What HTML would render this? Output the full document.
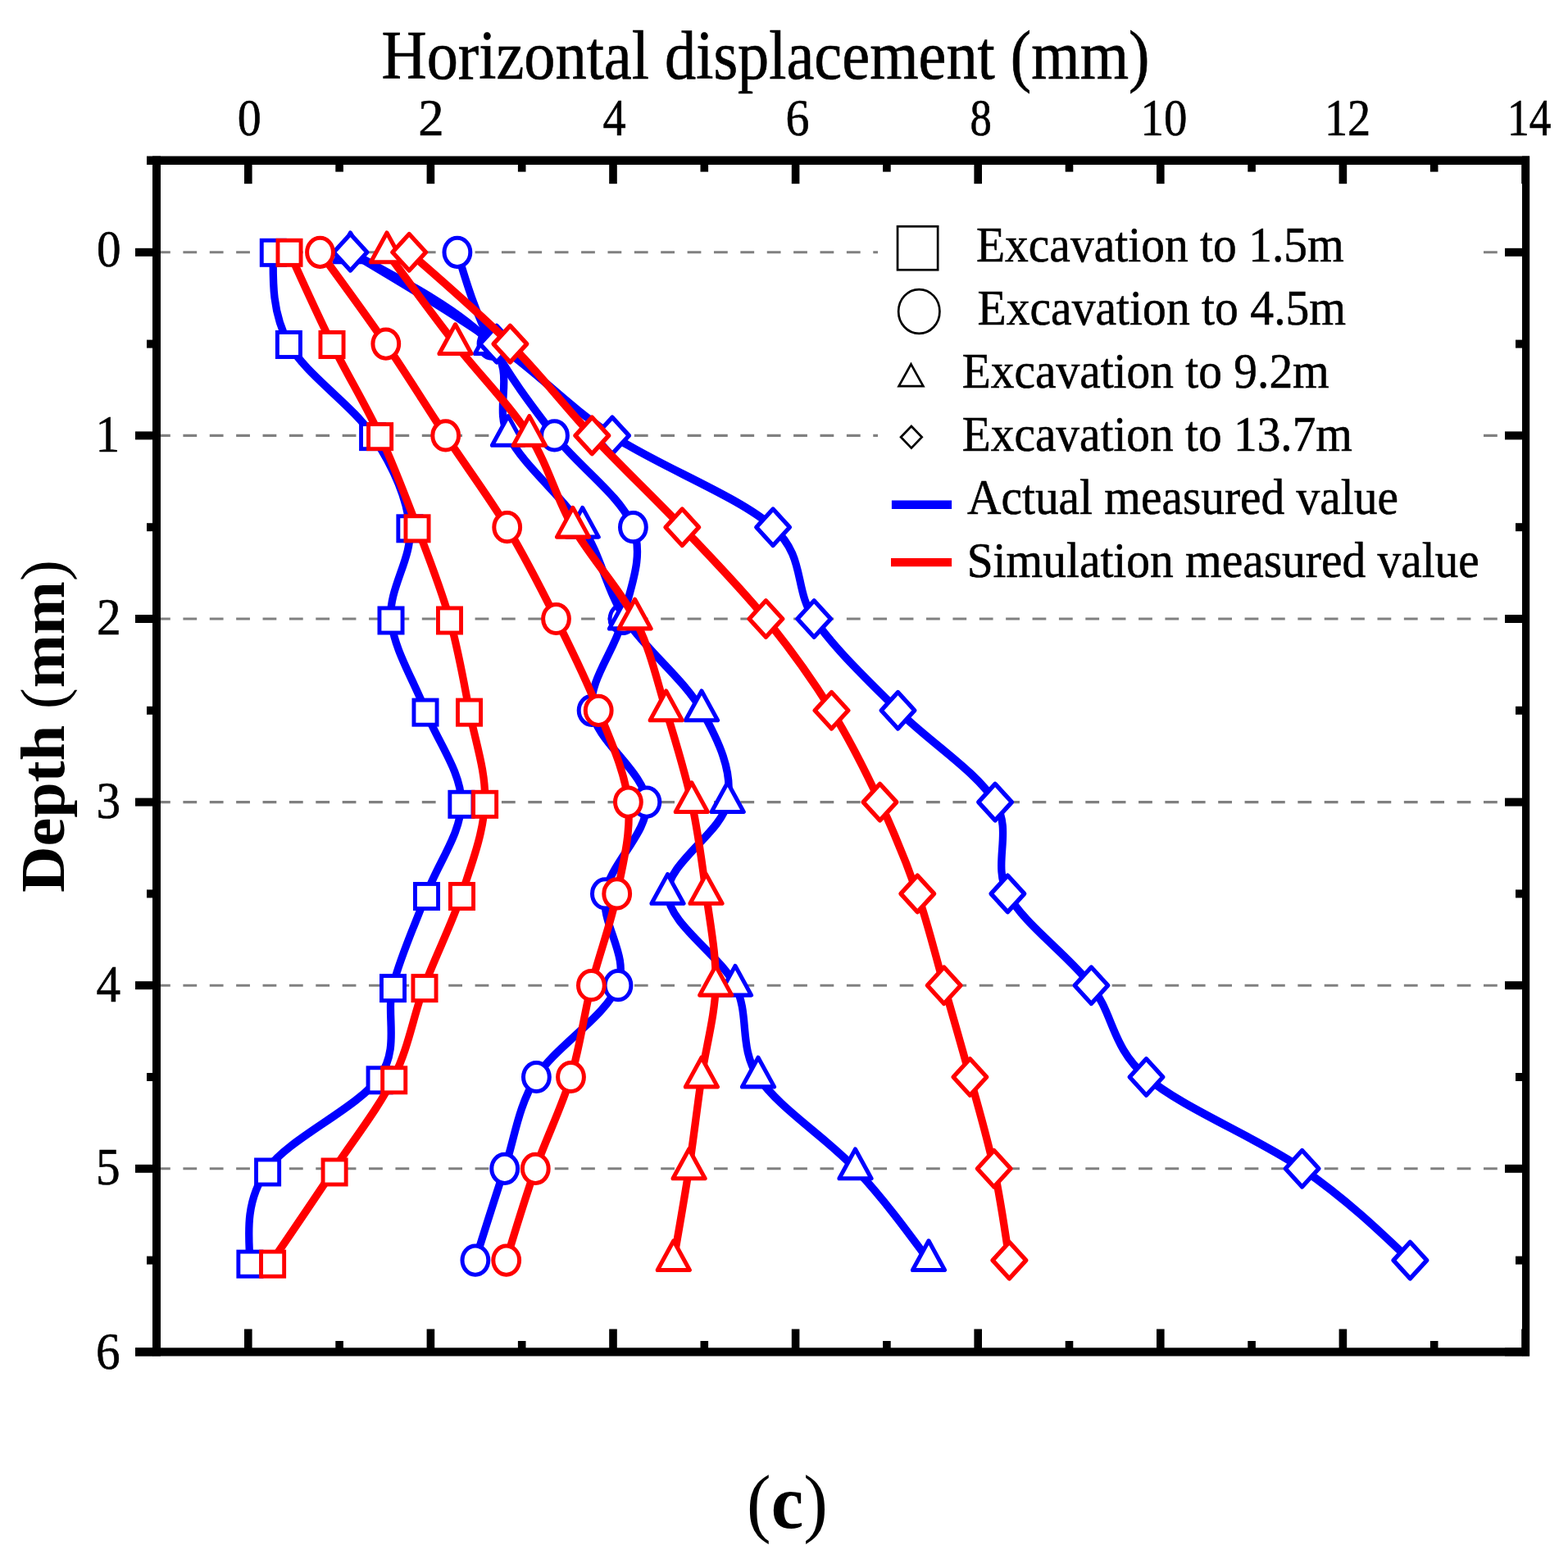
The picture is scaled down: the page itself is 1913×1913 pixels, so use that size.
<!DOCTYPE html>
<html><head><meta charset="utf-8"><title>Horizontal displacement chart</title><style>html,body{margin:0;padding:0;background:#fff;}svg{display:block;}</style></head><body>
<svg width="1913" height="1913" viewBox="0 0 1913 1913"><rect width="1913" height="1913" fill="#fff"/><line x1="191" y1="307.8" x2="1857" y2="307.8" stroke="#808080" stroke-width="3.1" stroke-dasharray="16.8 15.58"/><line x1="191" y1="531.4" x2="1857" y2="531.4" stroke="#808080" stroke-width="3.1" stroke-dasharray="16.8 15.58"/><line x1="191" y1="755" x2="1857" y2="755" stroke="#808080" stroke-width="3.1" stroke-dasharray="16.8 15.58"/><line x1="191" y1="978.6" x2="1857" y2="978.6" stroke="#808080" stroke-width="3.1" stroke-dasharray="16.8 15.58"/><line x1="191" y1="1202.2" x2="1857" y2="1202.2" stroke="#808080" stroke-width="3.1" stroke-dasharray="16.8 15.58"/><line x1="191" y1="1425.8" x2="1857" y2="1425.8" stroke="#808080" stroke-width="3.1" stroke-dasharray="16.8 15.58"/><rect x="1071" y="262" width="734" height="460" fill="#fff"/><path transform="scale(0.93 1)" d="M358.39 307.8C357.79 345.07 357.19 382.33 378.92 419.6C400.66 456.87 462.38 494.13 488.82 531.4C515.25 568.67 533.51 605.93 537.53 643.2C541.54 680.47 509.48 717.73 512.9 755C516.33 792.27 542.67 829.53 558.06 866.8C573.46 904.07 605 941.33 605.27 978.6C605.54 1015.87 574.62 1053.13 559.68 1090.4C544.73 1127.67 525.88 1164.93 515.59 1202.2C505.3 1239.47 525.36 1276.73 497.96 1314C470.56 1351.27 379.53 1388.53 351.18 1425.8C322.83 1463.07 325.34 1500.33 327.85 1537.6" fill="none" stroke="#0000ff" stroke-width="10" stroke-linejoin="round" stroke-linecap="round"/><rect x="319.25" y="293.25" width="28.1" height="30.1" fill="#fff" stroke="#0000ff" stroke-linejoin="miter" stroke-width="4.9"/><rect x="338.35" y="405.42" width="28.1" height="30.1" fill="#fff" stroke="#0000ff" stroke-linejoin="miter" stroke-width="4.9"/><rect x="440.55" y="517.59" width="28.1" height="30.1" fill="#fff" stroke="#0000ff" stroke-linejoin="miter" stroke-width="4.9"/><rect x="485.85" y="629.76" width="28.1" height="30.1" fill="#fff" stroke="#0000ff" stroke-linejoin="miter" stroke-width="4.9"/><rect x="462.95" y="741.93" width="28.1" height="30.1" fill="#fff" stroke="#0000ff" stroke-linejoin="miter" stroke-width="4.9"/><rect x="504.95" y="854.09" width="28.1" height="30.1" fill="#fff" stroke="#0000ff" stroke-linejoin="miter" stroke-width="4.9"/><rect x="548.85" y="966.26" width="28.1" height="30.1" fill="#fff" stroke="#0000ff" stroke-linejoin="miter" stroke-width="4.9"/><rect x="506.45" y="1078.43" width="28.1" height="30.1" fill="#fff" stroke="#0000ff" stroke-linejoin="miter" stroke-width="4.9"/><rect x="465.45" y="1190.6" width="28.1" height="30.1" fill="#fff" stroke="#0000ff" stroke-linejoin="miter" stroke-width="4.9"/><rect x="449.05" y="1302.77" width="28.1" height="30.1" fill="#fff" stroke="#0000ff" stroke-linejoin="miter" stroke-width="4.9"/><rect x="312.55" y="1414.94" width="28.1" height="30.1" fill="#fff" stroke="#0000ff" stroke-linejoin="miter" stroke-width="4.9"/><rect x="290.85" y="1527.11" width="28.1" height="30.1" fill="#fff" stroke="#0000ff" stroke-linejoin="miter" stroke-width="4.9"/><path transform="scale(0.93 1)" d="M599.89 307.8C611.9 345.07 623.91 382.33 645.16 419.6C666.42 456.87 696.52 494.13 727.42 531.4C758.32 568.67 815.57 605.93 830.54 643.2C845.5 680.47 826.22 717.73 817.2 755C808.19 792.27 771.27 829.53 776.45 866.8C781.63 904.07 845.36 941.33 848.28 978.6C851.2 1015.87 800.23 1053.13 793.98 1090.4C787.72 1127.67 825.81 1164.93 810.75 1202.2C795.7 1239.47 728.44 1276.73 703.66 1314C678.87 1351.27 675.39 1388.53 662.04 1425.8C648.69 1463.07 636.12 1500.33 623.55 1537.6" fill="none" stroke="#0000ff" stroke-width="10" stroke-linejoin="round" stroke-linecap="round"/><ellipse cx="557.9" cy="307.8" rx="15.9" ry="17.6" fill="#fff" stroke="#0000ff" stroke-linejoin="round" stroke-width="5.0"/><ellipse cx="600" cy="419.6" rx="15.9" ry="17.6" fill="#fff" stroke="#0000ff" stroke-linejoin="round" stroke-width="5.0"/><ellipse cx="676.5" cy="531.4" rx="15.9" ry="17.6" fill="#fff" stroke="#0000ff" stroke-linejoin="round" stroke-width="5.0"/><ellipse cx="772.4" cy="643.2" rx="15.9" ry="17.6" fill="#fff" stroke="#0000ff" stroke-linejoin="round" stroke-width="5.0"/><ellipse cx="760" cy="755" rx="15.9" ry="17.6" fill="#fff" stroke="#0000ff" stroke-linejoin="round" stroke-width="5.0"/><ellipse cx="722.1" cy="866.8" rx="15.9" ry="17.6" fill="#fff" stroke="#0000ff" stroke-linejoin="round" stroke-width="5.0"/><ellipse cx="788.9" cy="978.6" rx="15.9" ry="17.6" fill="#fff" stroke="#0000ff" stroke-linejoin="round" stroke-width="5.0"/><ellipse cx="738.4" cy="1090.4" rx="15.9" ry="17.6" fill="#fff" stroke="#0000ff" stroke-linejoin="round" stroke-width="5.0"/><ellipse cx="754" cy="1202.2" rx="15.9" ry="17.6" fill="#fff" stroke="#0000ff" stroke-linejoin="round" stroke-width="5.0"/><ellipse cx="654.4" cy="1314" rx="15.9" ry="17.6" fill="#fff" stroke="#0000ff" stroke-linejoin="round" stroke-width="5.0"/><ellipse cx="615.7" cy="1425.8" rx="15.9" ry="17.6" fill="#fff" stroke="#0000ff" stroke-linejoin="round" stroke-width="5.0"/><ellipse cx="579.9" cy="1537.6" rx="15.9" ry="17.6" fill="#fff" stroke="#0000ff" stroke-linejoin="round" stroke-width="5.0"/><path transform="scale(0.93 1)" d="M459.68 307.8C534.63 345.07 609.59 382.33 644.09 419.6C678.58 456.87 646.65 494.13 666.67 531.4C686.68 568.67 738.57 605.93 764.19 643.2C789.82 680.47 794.39 717.73 820.43 755C846.47 792.27 898.08 829.53 920.43 866.8C942.78 904.07 961.95 941.33 954.52 978.6C947.08 1015.87 874.14 1053.13 875.81 1090.4C877.47 1127.67 944.71 1164.93 964.52 1202.2C984.32 1239.47 968.37 1276.73 994.62 1314C1020.88 1351.27 1084.77 1388.53 1122.04 1425.8C1159.32 1463.07 1188.8 1500.33 1218.28 1537.6" fill="none" stroke="#0000ff" stroke-width="10" stroke-linejoin="round" stroke-linecap="round"/><path d="M427.5 284L447.05 319.7L407.95 319.7Z" fill="#fff" stroke="#0000ff" stroke-linejoin="round" stroke-width="5.1"/><path d="M599 395.8L618.55 431.5L579.45 431.5Z" fill="#fff" stroke="#0000ff" stroke-linejoin="round" stroke-width="5.1"/><path d="M620 507.6L639.55 543.3L600.45 543.3Z" fill="#fff" stroke="#0000ff" stroke-linejoin="round" stroke-width="5.1"/><path d="M710.7 619.4L730.25 655.1L691.15 655.1Z" fill="#fff" stroke="#0000ff" stroke-linejoin="round" stroke-width="5.1"/><path d="M763 731.2L782.55 766.9L743.45 766.9Z" fill="#fff" stroke="#0000ff" stroke-linejoin="round" stroke-width="5.1"/><path d="M856 843L875.55 878.7L836.45 878.7Z" fill="#fff" stroke="#0000ff" stroke-linejoin="round" stroke-width="5.1"/><path d="M887.7 954.8L907.25 990.5L868.15 990.5Z" fill="#fff" stroke="#0000ff" stroke-linejoin="round" stroke-width="5.1"/><path d="M814.5 1066.6L834.05 1102.3L794.95 1102.3Z" fill="#fff" stroke="#0000ff" stroke-linejoin="round" stroke-width="5.1"/><path d="M897 1178.4L916.55 1214.1L877.45 1214.1Z" fill="#fff" stroke="#0000ff" stroke-linejoin="round" stroke-width="5.1"/><path d="M925 1290.2L944.55 1325.9L905.45 1325.9Z" fill="#fff" stroke="#0000ff" stroke-linejoin="round" stroke-width="5.1"/><path d="M1043.5 1402L1063.05 1437.7L1023.95 1437.7Z" fill="#fff" stroke="#0000ff" stroke-linejoin="round" stroke-width="5.1"/><path d="M1133 1513.8L1152.55 1549.5L1113.45 1549.5Z" fill="#fff" stroke="#0000ff" stroke-linejoin="round" stroke-width="5.1"/><path transform="scale(0.93 1)" d="M459.68 307.8C527.02 345.07 594.35 382.33 651.61 419.6C708.87 456.87 742.81 494.13 803.23 531.4C863.64 568.67 969.96 605.93 1014.09 643.2C1058.21 680.47 1040.65 717.73 1067.96 755C1095.27 792.27 1138.37 829.53 1177.96 866.8C1217.54 904.07 1281.49 941.33 1305.48 978.6C1329.48 1015.87 1300.91 1053.13 1321.94 1090.4C1342.96 1127.67 1401.31 1164.93 1431.61 1202.2C1461.92 1239.47 1457.67 1276.73 1503.76 1314C1549.86 1351.27 1650.48 1388.53 1708.17 1425.8C1765.86 1463.07 1807.88 1500.33 1849.89 1537.6" fill="none" stroke="#0000ff" stroke-width="10" stroke-linejoin="round" stroke-linecap="round"/><path d="M427.5 285.55L447.85 307.8L427.5 330.05L407.15 307.8Z" fill="#fff" stroke="#0000ff" stroke-linejoin="round" stroke-width="5.3"/><path d="M606 397.35L626.35 419.6L606 441.85L585.65 419.6Z" fill="#fff" stroke="#0000ff" stroke-linejoin="round" stroke-width="5.3"/><path d="M747 509.15L767.35 531.4L747 553.65L726.65 531.4Z" fill="#fff" stroke="#0000ff" stroke-linejoin="round" stroke-width="5.3"/><path d="M943.1 620.95L963.45 643.2L943.1 665.45L922.75 643.2Z" fill="#fff" stroke="#0000ff" stroke-linejoin="round" stroke-width="5.3"/><path d="M993.2 732.75L1013.55 755L993.2 777.25L972.85 755Z" fill="#fff" stroke="#0000ff" stroke-linejoin="round" stroke-width="5.3"/><path d="M1095.5 844.55L1115.85 866.8L1095.5 889.05L1075.15 866.8Z" fill="#fff" stroke="#0000ff" stroke-linejoin="round" stroke-width="5.3"/><path d="M1214.1 956.35L1234.45 978.6L1214.1 1000.85L1193.75 978.6Z" fill="#fff" stroke="#0000ff" stroke-linejoin="round" stroke-width="5.3"/><path d="M1229.4 1068.15L1249.75 1090.4L1229.4 1112.65L1209.05 1090.4Z" fill="#fff" stroke="#0000ff" stroke-linejoin="round" stroke-width="5.3"/><path d="M1331.4 1179.95L1351.75 1202.2L1331.4 1224.45L1311.05 1202.2Z" fill="#fff" stroke="#0000ff" stroke-linejoin="round" stroke-width="5.3"/><path d="M1398.5 1291.75L1418.85 1314L1398.5 1336.25L1378.15 1314Z" fill="#fff" stroke="#0000ff" stroke-linejoin="round" stroke-width="5.3"/><path d="M1588.6 1403.55L1608.95 1425.8L1588.6 1448.05L1568.25 1425.8Z" fill="#fff" stroke="#0000ff" stroke-linejoin="round" stroke-width="5.3"/><path d="M1720.4 1515.35L1740.75 1537.6L1720.4 1559.85L1700.05 1537.6Z" fill="#fff" stroke="#0000ff" stroke-linejoin="round" stroke-width="5.3"/><path transform="scale(0.93 1)" d="M379.57 307.8C397.62 345.07 415.66 382.33 435.48 419.6C455.3 456.87 479.86 494.13 498.49 531.4C517.13 568.67 532.1 605.93 547.31 643.2C562.53 680.47 578.41 717.73 589.78 755C601.16 792.27 607.87 829.53 615.59 866.8C623.32 904.07 637.74 941.33 636.13 978.6C634.52 1015.87 619.1 1053.13 605.91 1090.4C592.72 1127.67 571.83 1164.93 556.99 1202.2C542.15 1239.47 536.58 1276.73 516.88 1314C497.19 1351.27 465.36 1388.53 438.82 1425.8C412.28 1463.07 384.96 1500.33 357.63 1537.6" fill="none" stroke="#ff0000" stroke-width="10" stroke-linejoin="round" stroke-linecap="round"/><rect x="338.95" y="293.25" width="28.1" height="30.1" fill="#fff" stroke="#ff0000" stroke-linejoin="miter" stroke-width="4.9"/><rect x="390.95" y="405.42" width="28.1" height="30.1" fill="#fff" stroke="#ff0000" stroke-linejoin="miter" stroke-width="4.9"/><rect x="449.55" y="517.59" width="28.1" height="30.1" fill="#fff" stroke="#ff0000" stroke-linejoin="miter" stroke-width="4.9"/><rect x="494.95" y="629.76" width="28.1" height="30.1" fill="#fff" stroke="#ff0000" stroke-linejoin="miter" stroke-width="4.9"/><rect x="534.45" y="741.93" width="28.1" height="30.1" fill="#fff" stroke="#ff0000" stroke-linejoin="miter" stroke-width="4.9"/><rect x="558.45" y="854.09" width="28.1" height="30.1" fill="#fff" stroke="#ff0000" stroke-linejoin="miter" stroke-width="4.9"/><rect x="577.55" y="966.26" width="28.1" height="30.1" fill="#fff" stroke="#ff0000" stroke-linejoin="miter" stroke-width="4.9"/><rect x="549.45" y="1078.43" width="28.1" height="30.1" fill="#fff" stroke="#ff0000" stroke-linejoin="miter" stroke-width="4.9"/><rect x="503.95" y="1190.6" width="28.1" height="30.1" fill="#fff" stroke="#ff0000" stroke-linejoin="miter" stroke-width="4.9"/><rect x="466.65" y="1302.77" width="28.1" height="30.1" fill="#fff" stroke="#ff0000" stroke-linejoin="miter" stroke-width="4.9"/><rect x="394.05" y="1414.94" width="28.1" height="30.1" fill="#fff" stroke="#ff0000" stroke-linejoin="miter" stroke-width="4.9"/><rect x="318.55" y="1527.11" width="28.1" height="30.1" fill="#fff" stroke="#ff0000" stroke-linejoin="miter" stroke-width="4.9"/><path transform="scale(0.93 1)" d="M419.89 307.8C449.34 345.07 478.78 382.33 506.24 419.6C533.69 456.87 558.12 494.13 584.62 531.4C611.13 568.67 641.11 605.93 665.27 643.2C689.43 680.47 709.59 717.73 729.57 755C749.55 792.27 769.41 829.53 785.16 866.8C800.91 904.07 820.05 941.33 824.09 978.6C828.12 1015.87 817.42 1053.13 809.35 1090.4C801.29 1127.67 785.77 1164.93 775.7 1202.2C765.63 1239.47 761.13 1276.73 748.92 1314C736.72 1351.27 716.59 1388.53 702.47 1425.8C688.35 1463.07 676.27 1500.33 664.19 1537.6" fill="none" stroke="#ff0000" stroke-width="10" stroke-linejoin="round" stroke-linecap="round"/><ellipse cx="390.5" cy="307.8" rx="15.9" ry="17.6" fill="#fff" stroke="#ff0000" stroke-linejoin="round" stroke-width="5.0"/><ellipse cx="470.8" cy="419.6" rx="15.9" ry="17.6" fill="#fff" stroke="#ff0000" stroke-linejoin="round" stroke-width="5.0"/><ellipse cx="543.7" cy="531.4" rx="15.9" ry="17.6" fill="#fff" stroke="#ff0000" stroke-linejoin="round" stroke-width="5.0"/><ellipse cx="618.7" cy="643.2" rx="15.9" ry="17.6" fill="#fff" stroke="#ff0000" stroke-linejoin="round" stroke-width="5.0"/><ellipse cx="678.5" cy="755" rx="15.9" ry="17.6" fill="#fff" stroke="#ff0000" stroke-linejoin="round" stroke-width="5.0"/><ellipse cx="730.2" cy="866.8" rx="15.9" ry="17.6" fill="#fff" stroke="#ff0000" stroke-linejoin="round" stroke-width="5.0"/><ellipse cx="766.4" cy="978.6" rx="15.9" ry="17.6" fill="#fff" stroke="#ff0000" stroke-linejoin="round" stroke-width="5.0"/><ellipse cx="752.7" cy="1090.4" rx="15.9" ry="17.6" fill="#fff" stroke="#ff0000" stroke-linejoin="round" stroke-width="5.0"/><ellipse cx="721.4" cy="1202.2" rx="15.9" ry="17.6" fill="#fff" stroke="#ff0000" stroke-linejoin="round" stroke-width="5.0"/><ellipse cx="696.5" cy="1314" rx="15.9" ry="17.6" fill="#fff" stroke="#ff0000" stroke-linejoin="round" stroke-width="5.0"/><ellipse cx="653.3" cy="1425.8" rx="15.9" ry="17.6" fill="#fff" stroke="#ff0000" stroke-linejoin="round" stroke-width="5.0"/><ellipse cx="617.7" cy="1537.6" rx="15.9" ry="17.6" fill="#fff" stroke="#ff0000" stroke-linejoin="round" stroke-width="5.0"/><path transform="scale(0.93 1)" d="M507.53 307.8C536.85 345.07 566.16 382.33 597.31 419.6C628.46 456.87 668.69 494.13 694.41 531.4C720.13 568.67 728.53 605.93 751.61 643.2C774.7 680.47 812.53 717.73 832.9 755C853.28 792.27 861.47 829.53 873.87 866.8C886.27 904.07 898.57 941.33 907.31 978.6C916.06 1015.87 921.08 1053.13 926.34 1090.4C931.61 1127.67 939.93 1164.93 938.92 1202.2C937.92 1239.47 926.16 1276.73 920.32 1314C914.48 1351.27 909.98 1388.53 903.87 1425.8C897.76 1463.07 890.71 1500.33 883.66 1537.6" fill="none" stroke="#ff0000" stroke-width="10" stroke-linejoin="round" stroke-linecap="round"/><path d="M472 284L491.55 319.7L452.45 319.7Z" fill="#fff" stroke="#ff0000" stroke-linejoin="round" stroke-width="5.1"/><path d="M555.5 395.8L575.05 431.5L535.95 431.5Z" fill="#fff" stroke="#ff0000" stroke-linejoin="round" stroke-width="5.1"/><path d="M645.8 507.6L665.35 543.3L626.25 543.3Z" fill="#fff" stroke="#ff0000" stroke-linejoin="round" stroke-width="5.1"/><path d="M699 619.4L718.55 655.1L679.45 655.1Z" fill="#fff" stroke="#ff0000" stroke-linejoin="round" stroke-width="5.1"/><path d="M774.6 731.2L794.15 766.9L755.05 766.9Z" fill="#fff" stroke="#ff0000" stroke-linejoin="round" stroke-width="5.1"/><path d="M812.7 843L832.25 878.7L793.15 878.7Z" fill="#fff" stroke="#ff0000" stroke-linejoin="round" stroke-width="5.1"/><path d="M843.8 954.8L863.35 990.5L824.25 990.5Z" fill="#fff" stroke="#ff0000" stroke-linejoin="round" stroke-width="5.1"/><path d="M861.5 1066.6L881.05 1102.3L841.95 1102.3Z" fill="#fff" stroke="#ff0000" stroke-linejoin="round" stroke-width="5.1"/><path d="M873.2 1178.4L892.75 1214.1L853.65 1214.1Z" fill="#fff" stroke="#ff0000" stroke-linejoin="round" stroke-width="5.1"/><path d="M855.9 1290.2L875.45 1325.9L836.35 1325.9Z" fill="#fff" stroke="#ff0000" stroke-linejoin="round" stroke-width="5.1"/><path d="M840.6 1402L860.15 1437.7L821.05 1437.7Z" fill="#fff" stroke="#ff0000" stroke-linejoin="round" stroke-width="5.1"/><path d="M821.8 1513.8L841.35 1549.5L802.25 1549.5Z" fill="#fff" stroke="#ff0000" stroke-linejoin="round" stroke-width="5.1"/><path transform="scale(0.93 1)" d="M536.77 307.8C583.02 345.07 629.27 382.33 669.25 419.6C709.23 456.87 739.05 494.13 776.67 531.4C814.28 568.67 856.94 605.93 894.95 643.2C932.96 680.47 972.08 717.73 1004.73 755C1037.38 792.27 1065.93 829.53 1090.86 866.8C1115.79 904.07 1135.52 941.33 1154.3 978.6C1173.08 1015.87 1189.53 1053.13 1203.55 1090.4C1217.56 1127.67 1226.9 1164.93 1238.39 1202.2C1249.87 1239.47 1261.54 1276.73 1272.47 1314C1283.41 1351.27 1295.38 1388.53 1303.98 1425.8C1312.58 1463.07 1318.33 1500.33 1324.09 1537.6" fill="none" stroke="#ff0000" stroke-width="10" stroke-linejoin="round" stroke-linecap="round"/><path d="M499.2 285.55L519.55 307.8L499.2 330.05L478.85 307.8Z" fill="#fff" stroke="#ff0000" stroke-linejoin="round" stroke-width="5.3"/><path d="M622.4 397.35L642.75 419.6L622.4 441.85L602.05 419.6Z" fill="#fff" stroke="#ff0000" stroke-linejoin="round" stroke-width="5.3"/><path d="M722.3 509.15L742.65 531.4L722.3 553.65L701.95 531.4Z" fill="#fff" stroke="#ff0000" stroke-linejoin="round" stroke-width="5.3"/><path d="M832.3 620.95L852.65 643.2L832.3 665.45L811.95 643.2Z" fill="#fff" stroke="#ff0000" stroke-linejoin="round" stroke-width="5.3"/><path d="M934.4 732.75L954.75 755L934.4 777.25L914.05 755Z" fill="#fff" stroke="#ff0000" stroke-linejoin="round" stroke-width="5.3"/><path d="M1014.5 844.55L1034.85 866.8L1014.5 889.05L994.15 866.8Z" fill="#fff" stroke="#ff0000" stroke-linejoin="round" stroke-width="5.3"/><path d="M1073.5 956.35L1093.85 978.6L1073.5 1000.85L1053.15 978.6Z" fill="#fff" stroke="#ff0000" stroke-linejoin="round" stroke-width="5.3"/><path d="M1119.3 1068.15L1139.65 1090.4L1119.3 1112.65L1098.95 1090.4Z" fill="#fff" stroke="#ff0000" stroke-linejoin="round" stroke-width="5.3"/><path d="M1151.7 1179.95L1172.05 1202.2L1151.7 1224.45L1131.35 1202.2Z" fill="#fff" stroke="#ff0000" stroke-linejoin="round" stroke-width="5.3"/><path d="M1183.4 1291.75L1203.75 1314L1183.4 1336.25L1163.05 1314Z" fill="#fff" stroke="#ff0000" stroke-linejoin="round" stroke-width="5.3"/><path d="M1212.7 1403.55L1233.05 1425.8L1212.7 1448.05L1192.35 1425.8Z" fill="#fff" stroke="#ff0000" stroke-linejoin="round" stroke-width="5.3"/><path d="M1231.4 1515.35L1251.75 1537.6L1231.4 1559.85L1211.05 1537.6Z" fill="#fff" stroke="#ff0000" stroke-linejoin="round" stroke-width="5.3"/><rect x="179" y="190.5" width="1687" height="10.5" fill="#000"/><rect x="165" y="1644.3" width="1701" height="10.2" fill="#000"/><rect x="186" y="190.5" width="10" height="1464" fill="#000"/><rect x="1857" y="190.5" width="9.2" height="1464" fill="#000"/><rect x="298" y="201" width="9.6" height="23.2" fill="#000"/><rect x="298" y="1621.5" width="9.6" height="23.8" fill="#000"/><rect x="409.3" y="201" width="9.6" height="8.6" fill="#000"/><rect x="409.3" y="1636" width="9.6" height="9.3" fill="#000"/><rect x="520.6" y="201" width="9.6" height="23.2" fill="#000"/><rect x="520.6" y="1621.5" width="9.6" height="23.8" fill="#000"/><rect x="631.9" y="201" width="9.6" height="8.6" fill="#000"/><rect x="631.9" y="1636" width="9.6" height="9.3" fill="#000"/><rect x="743.2" y="201" width="9.6" height="23.2" fill="#000"/><rect x="743.2" y="1621.5" width="9.6" height="23.8" fill="#000"/><rect x="854.5" y="201" width="9.6" height="8.6" fill="#000"/><rect x="854.5" y="1636" width="9.6" height="9.3" fill="#000"/><rect x="965.8" y="201" width="9.6" height="23.2" fill="#000"/><rect x="965.8" y="1621.5" width="9.6" height="23.8" fill="#000"/><rect x="1077.1" y="201" width="9.6" height="8.6" fill="#000"/><rect x="1077.1" y="1636" width="9.6" height="9.3" fill="#000"/><rect x="1188.4" y="201" width="9.6" height="23.2" fill="#000"/><rect x="1188.4" y="1621.5" width="9.6" height="23.8" fill="#000"/><rect x="1299.7" y="201" width="9.6" height="8.6" fill="#000"/><rect x="1299.7" y="1636" width="9.6" height="9.3" fill="#000"/><rect x="1411" y="201" width="9.6" height="23.2" fill="#000"/><rect x="1411" y="1621.5" width="9.6" height="23.8" fill="#000"/><rect x="1522.3" y="201" width="9.6" height="8.6" fill="#000"/><rect x="1522.3" y="1636" width="9.6" height="9.3" fill="#000"/><rect x="1633.6" y="201" width="9.6" height="23.2" fill="#000"/><rect x="1633.6" y="1621.5" width="9.6" height="23.8" fill="#000"/><rect x="1744.9" y="201" width="9.6" height="8.6" fill="#000"/><rect x="1744.9" y="1636" width="9.6" height="9.3" fill="#000"/><rect x="1856.2" y="201" width="9.6" height="23.2" fill="#000"/><rect x="1856.2" y="1621.5" width="9.6" height="23.8" fill="#000"/><rect x="179" y="191" width="7.5" height="10" fill="#000"/><rect x="1849" y="191" width="8.5" height="10" fill="#000"/><rect x="165" y="302.8" width="21.5" height="10" fill="#000"/><rect x="1836" y="302.8" width="21.5" height="10" fill="#000"/><rect x="179" y="414.6" width="7.5" height="10" fill="#000"/><rect x="1849" y="414.6" width="8.5" height="10" fill="#000"/><rect x="165" y="526.4" width="21.5" height="10" fill="#000"/><rect x="1836" y="526.4" width="21.5" height="10" fill="#000"/><rect x="179" y="638.2" width="7.5" height="10" fill="#000"/><rect x="1849" y="638.2" width="8.5" height="10" fill="#000"/><rect x="165" y="750" width="21.5" height="10" fill="#000"/><rect x="1836" y="750" width="21.5" height="10" fill="#000"/><rect x="179" y="861.8" width="7.5" height="10" fill="#000"/><rect x="1849" y="861.8" width="8.5" height="10" fill="#000"/><rect x="165" y="973.6" width="21.5" height="10" fill="#000"/><rect x="1836" y="973.6" width="21.5" height="10" fill="#000"/><rect x="179" y="1085.4" width="7.5" height="10" fill="#000"/><rect x="1849" y="1085.4" width="8.5" height="10" fill="#000"/><rect x="165" y="1197.2" width="21.5" height="10" fill="#000"/><rect x="1836" y="1197.2" width="21.5" height="10" fill="#000"/><rect x="179" y="1309" width="7.5" height="10" fill="#000"/><rect x="1849" y="1309" width="8.5" height="10" fill="#000"/><rect x="165" y="1420.8" width="21.5" height="10" fill="#000"/><rect x="1836" y="1420.8" width="21.5" height="10" fill="#000"/><rect x="179" y="1532.6" width="7.5" height="10" fill="#000"/><rect x="1849" y="1532.6" width="8.5" height="10" fill="#000"/><rect x="165" y="1644.4" width="21.5" height="10" fill="#000"/><rect x="1836" y="1644.4" width="21.5" height="10" fill="#000"/><rect x="1095.05" y="276.25" width="49.1" height="53" fill="none" stroke="#000" stroke-width="2.7"/><ellipse cx="1121.3" cy="379.95" rx="25.15" ry="26.9" fill="none" stroke="#000" stroke-width="2.7"/><path d="M1111.5 444.3L1126.4 471.2L1096.6 471.2Z" fill="none" stroke="#000" stroke-width="2.7" stroke-linejoin="miter"/><path d="M1111.9 520L1124.7 533.3L1111.9 546.6L1099.1 533.3Z" fill="none" stroke="#000" stroke-width="2.7"/><rect x="1087.9" y="610.5" width="73.2" height="10.5" fill="#0000ff"/><rect x="1087.0" y="681" width="74.1" height="10.2" fill="#ff0000"/><g font-family="'Liberation Serif', 'Times New Roman', serif" fill="#000"><text transform="translate(465.51 95.8) scale(0.9035 1)" font-size="84.5" font-weight="normal" stroke="#000" stroke-width="0.7">Horizontal displacement (mm)</text><text transform="translate(289.64 165) scale(0.9203 1)" font-size="63" font-weight="normal" stroke="#000" stroke-width="0.6">0</text><text transform="translate(510.31 165) scale(0.9961 1)" font-size="63" font-weight="normal" stroke="#000" stroke-width="0.6">2</text><text transform="translate(735.47 165) scale(0.8954 1)" font-size="63" font-weight="normal" stroke="#000" stroke-width="0.6">4</text><text transform="translate(958.62 165) scale(0.9203 1)" font-size="63" font-weight="normal" stroke="#000" stroke-width="0.6">6</text><text transform="translate(1183.48 165) scale(0.8370 1)" font-size="63" font-weight="normal" stroke="#000" stroke-width="0.6">8</text><text transform="translate(1391.55 165) scale(0.9029 1)" font-size="63" font-weight="normal" stroke="#000" stroke-width="0.6">10</text><text transform="translate(1615.91 165) scale(0.8938 1)" font-size="63" font-weight="normal" stroke="#000" stroke-width="0.6">12</text><text transform="translate(1839.07 165) scale(0.8472 1)" font-size="63" font-weight="normal" stroke="#000" stroke-width="0.6">14</text><text transform="translate(117.93 325.1) scale(0.94 1)" font-size="63" stroke="#000" stroke-width="0.6">0</text><text transform="translate(116.52 550.7) scale(0.94 1)" font-size="63" stroke="#000" stroke-width="0.6">1</text><text transform="translate(117.93 774.3) scale(0.94 1)" font-size="63" stroke="#000" stroke-width="0.6">2</text><text transform="translate(117.46 997.9) scale(0.94 1)" font-size="63" stroke="#000" stroke-width="0.6">3</text><text transform="translate(117.46 1221.5) scale(0.94 1)" font-size="63" stroke="#000" stroke-width="0.6">4</text><text transform="translate(116.99 1445.1) scale(0.94 1)" font-size="63" stroke="#000" stroke-width="0.6">5</text><text transform="translate(116.99 1670.2) scale(0.94 1)" font-size="63" stroke="#000" stroke-width="0.6">6</text><text transform="translate(1190.92 318.8) scale(0.9279 1)" font-size="62" font-weight="normal" stroke="#000" stroke-width="0.6">Excavation to 1.5m</text><text transform="translate(1192.52 396.4) scale(0.9296 1)" font-size="62" font-weight="normal" stroke="#000" stroke-width="0.6">Excavation to 4.5m</text><text transform="translate(1173.73 472.5) scale(0.9261 1)" font-size="62" font-weight="normal" stroke="#000" stroke-width="0.6">Excavation to 9.2m</text><text transform="translate(1173.73 550.2) scale(0.9251 1)" font-size="62" font-weight="normal" stroke="#000" stroke-width="0.6">Excavation to 13.7m</text><text transform="translate(1180.05 627.3) scale(0.9257 1)" font-size="62" font-weight="normal" stroke="#000" stroke-width="0.6">Actual measured value</text><text transform="translate(1179.67 704.3) scale(0.9264 1)" font-size="62" font-weight="normal" stroke="#000" stroke-width="0.6">Simulation measured value</text><text transform="translate(911.11 1864) scale(0.9469 1)" font-size="94" font-weight="bold"><tspan font-weight="normal">(</tspan>c<tspan font-weight="normal">)</tspan></text><text transform="translate(77.8 1088.98) rotate(-90) scale(0.9771 0.94)" font-size="80" font-weight="bold">Depth <tspan font-weight="normal">(</tspan>mm<tspan font-weight="normal">)</tspan></text></g></svg>
</body></html>
